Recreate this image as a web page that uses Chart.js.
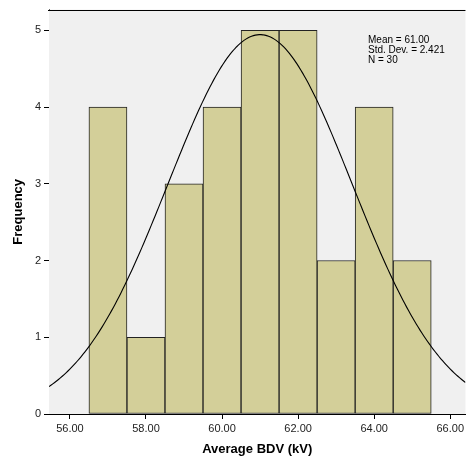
<!DOCTYPE html>
<html>
<head>
<meta charset="utf-8">
<script src="https://cdn.jsdelivr.net/npm/chart.js@4.4.1/dist/chart.umd.min.js"></script>
<style>
  html, body { margin: 0; padding: 0; background: #fff; }
  #wrap { width: 467px; height: 461px; }
</style>
</head>
<body>
<div id="wrap"><canvas id="histChart" width="467" height="461"></canvas></div>
<script>
/* ---------------------------
   Data
--------------------------- */
const binCenters = [57, 58, 59, 60, 61, 62, 63, 64, 65];
const binCounts  = [4, 1, 3, 4, 5, 5, 2, 4, 2];
const xTickValues = [56, 58, 60, 62, 64, 66];
const yTickValues = [0, 1, 2, 3, 4, 5];
const statsLines = ["Mean = 61.00", "Std. Dev. = 2.421", "N = 30"];

const fitMean = 61.00;
const fitSd = 2.421;
const fitN = 30;
const binWidth = 1;

const X_MIN = 55.45, X_MAX = 66.4;
const Y_MIN = 0, Y_MAX = 5.27;

const FONT = "Arial, 'Liberation Sans', sans-serif";

/* ---------------------------
   Normal curve from the stated fit
--------------------------- */
function normalCurve() {
  const pts = [];
  const steps = 220;
  for (let i = 0; i <= steps; i++) {
    const x = X_MIN + (X_MAX - X_MIN) * i / steps;
    const z = (x - fitMean) / fitSd;
    const y = fitN * binWidth * Math.exp(-0.5 * z * z) / (fitSd * Math.sqrt(2 * Math.PI));
    pts.push({ x, y });
  }
  return pts;
}

/* ---------------------------
   Plot background, frame and stats box
--------------------------- */
const plotFrame = {
  id: "plotFrame",
  beforeDatasetsDraw(chart) {
    const { ctx, chartArea: a } = chart;
    ctx.save();
    ctx.fillStyle = "#f0f0f0";
    ctx.fillRect(a.left, a.top, a.right - a.left, a.bottom - a.top);
    ctx.restore();
  },
  afterDraw(chart) {
    const { ctx, chartArea: a } = chart;
    ctx.save();
    // top edge of the frame
    ctx.fillStyle = "#000";
    ctx.fillRect(Math.round(a.left) - 1, Math.round(a.top), a.right - a.left + 1, 1);

    ctx.font = "10px " + FONT;
    ctx.textBaseline = "middle";
    statsLines.forEach((t, i) => ctx.fillText(t, 368, 40 + i * 10));
    ctx.restore();
  }
};

const bars = binCenters.map((c, i) => ({ x: c, y: binCounts[i] }));

new Chart(document.getElementById("histChart"), {
  type: "bar",
  data: {
    datasets: [
      {
        type: "line",
        data: normalCurve(),
        borderColor: "#000",
        borderWidth: 1.1,
        pointRadius: 0,
        tension: 0,
        fill: false,
        order: 0
      },
      {
        type: "bar",
        data: bars,
        backgroundColor: "#d3cf99",
        borderColor: "#222",
        borderWidth: 1,
        borderSkipped: false,
        barPercentage: 1,
        categoryPercentage: 1,
        order: 1
      }
    ]
  },
  options: {
    responsive: false,
    animation: false,
    layout: { padding: { top: 8, right: 0, left: 0, bottom: 0 } },
    plugins: {
      legend: { display: false },
      tooltip: { enabled: false }
    },
    scales: {
      x: {
        type: "linear",
        min: X_MIN,
        max: X_MAX,
        offset: false,
        grid: { offset: false, drawOnChartArea: false, drawTicks: true, tickLength: 5, color: "#000" },
        border: { display: true, color: "#000", width: 1 },
        afterBuildTicks: s => { s.ticks = xTickValues.map(v => ({ value: v })); },
        afterFit: s => { s.height = 47; },
        ticks: {
          color: "#222",
          font: { family: FONT, size: 11 },
          padding: 3,
          maxRotation: 0,
          callback: v => Number(v).toFixed(2)
        },
        title: {
          display: true,
          text: "Average BDV (kV)",
          color: "#000",
          font: { family: FONT, size: 13, weight: "bold" },
          padding: { top: 4, bottom: 4 }
        }
      },
      y: {
        min: Y_MIN,
        max: Y_MAX,
        grid: { drawOnChartArea: false, drawTicks: true, tickLength: 5, color: "#000" },
        border: { display: true, color: "#000", width: 1 },
        afterBuildTicks: s => { s.ticks = yTickValues.map(v => ({ value: v })); },
        afterFit: s => { s.width = 49; },
        ticks: {
          color: "#222",
          font: { family: FONT, size: 11 },
          padding: 3
        },
        title: {
          display: true,
          text: "Frequency",
          color: "#000",
          font: { family: FONT, size: 13, weight: "bold" },
          padding: { top: 11, bottom: 4 }
        }
      }
    }
  },
  plugins: [plotFrame]
});
</script>
</body>
</html>
